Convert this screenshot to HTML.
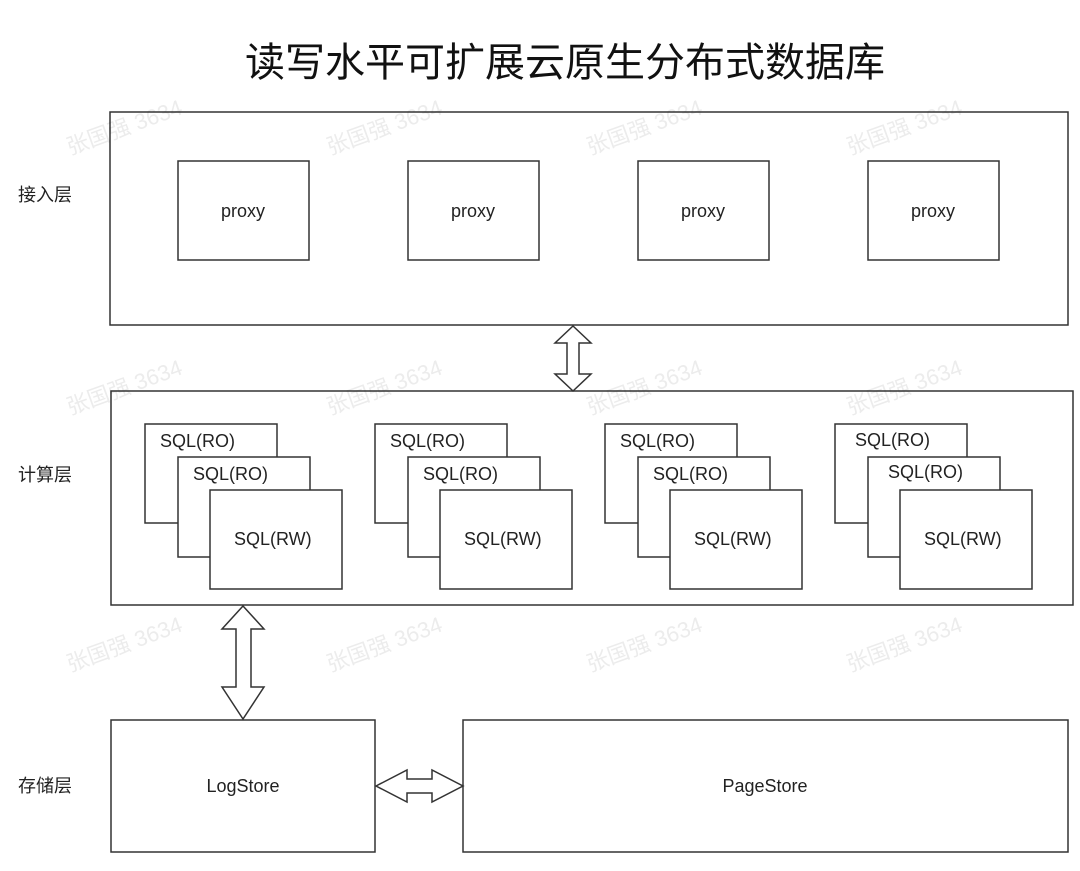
<!DOCTYPE html>
<html><head><meta charset="utf-8"><style>
body{margin:0;background:#fff;}
svg text{font-family:"Liberation Sans","Noto Sans CJK SC",sans-serif;fill:#222;}
</style></head><body>
<svg width="1080" height="866" viewBox="0 0 1080 866" xmlns="http://www.w3.org/2000/svg">
<text x="565" y="76" font-size="40" text-anchor="middle" style="fill:#111">读写水平可扩展云原生分布式数据库</text>
<g font-size="18">
<text x="18" y="201">接入层</text>
<text x="18" y="481">计算层</text>
<text x="18" y="792">存储层</text>
</g>
<g fill="#fff" stroke="#333" stroke-width="1.5">
<rect x="110" y="112" width="958" height="213"/>
<rect x="178" y="161" width="131" height="99"/>
<rect x="408" y="161" width="131" height="99"/>
<rect x="638" y="161" width="131" height="99"/>
<rect x="868" y="161" width="131" height="99"/>
<rect x="111" y="391" width="962" height="214"/>
<rect x="111" y="720" width="264" height="132"/>
<rect x="463" y="720" width="605" height="132"/>
</g>
<g font-size="18" text-anchor="middle">
<text x="243" y="217">proxy</text><text x="473" y="217">proxy</text><text x="703" y="217">proxy</text><text x="933" y="217">proxy</text>
<text x="243" y="792">LogStore</text><text x="765" y="792">PageStore</text>
</g>
<g id="st" fill="#fff" stroke="#333" stroke-width="1.5">
<rect x="145" y="424" width="132" height="99"/>
<rect x="178" y="457" width="132" height="100"/>
<rect x="210" y="490" width="132" height="99"/>
</g>
<use href="#st" x="230"/><use href="#st" x="460"/><use href="#st" x="690"/>
<g font-size="18">
<text x="160" y="447">SQL(RO)</text><text x="193" y="480">SQL(RO)</text><text x="234" y="545">SQL(RW)</text>
<text x="390" y="447">SQL(RO)</text><text x="423" y="480">SQL(RO)</text><text x="464" y="545">SQL(RW)</text>
<text x="620" y="447">SQL(RO)</text><text x="653" y="480">SQL(RO)</text><text x="694" y="545">SQL(RW)</text>
<text x="855" y="446">SQL(RO)</text><text x="888" y="478">SQL(RO)</text><text x="924" y="545">SQL(RW)</text>
</g>
<g fill="#fff" stroke="#333" stroke-width="1.5">
<polygon points="573,326 591,343 579,343 579,374 591,374 573,391 555,374 567,374 567,343 555,343"/>
<polygon points="243,606 264,629 251,629 251,687 264,687 243,719 222,687 236,687 236,629 222,629"/>
<polygon points="376,786 407,770 407,779 432,779 432,770 463,786 432,802 432,793 407,793 407,802"/>
</g>
<g font-size="22" opacity="0.09">
<text x="70" y="155" transform="rotate(-20 70 155)">张国强 3634</text>
<text x="330" y="155" transform="rotate(-20 330 155)">张国强 3634</text>
<text x="590" y="155" transform="rotate(-20 590 155)">张国强 3634</text>
<text x="850" y="155" transform="rotate(-20 850 155)">张国强 3634</text>
<text x="70" y="415" transform="rotate(-20 70 415)">张国强 3634</text>
<text x="330" y="415" transform="rotate(-20 330 415)">张国强 3634</text>
<text x="590" y="415" transform="rotate(-20 590 415)">张国强 3634</text>
<text x="850" y="415" transform="rotate(-20 850 415)">张国强 3634</text>
<text x="70" y="672" transform="rotate(-20 70 672)">张国强 3634</text>
<text x="330" y="672" transform="rotate(-20 330 672)">张国强 3634</text>
<text x="590" y="672" transform="rotate(-20 590 672)">张国强 3634</text>
<text x="850" y="672" transform="rotate(-20 850 672)">张国强 3634</text>
</g>
</svg>
</body></html>
